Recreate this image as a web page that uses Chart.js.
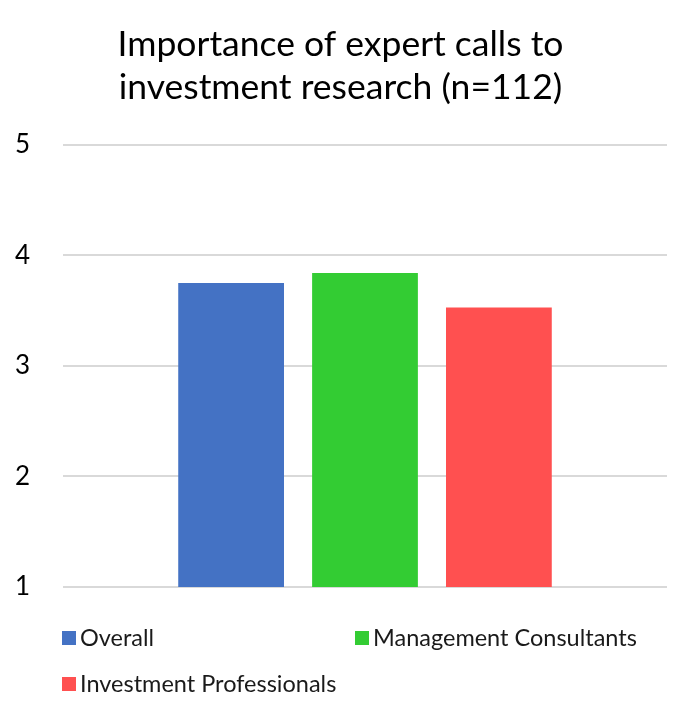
<!DOCTYPE html>
<html>
<head>
<meta charset="utf-8">
<script src="https://cdn.jsdelivr.net/npm/chart.js@4"></script>
<style>
  html, body { margin: 0; padding: 0; background: #fff; }
  #wrap { width: 689px; height: 714px; }
</style>
</head>
<body>
<div id="wrap"><canvas id="chart"></canvas></div>
<script>
// Chart data
const seriesNames = ['Overall', 'Management Consultants', 'Investment Professionals'];
const seriesValues = [3.75, 3.84, 3.53];
const seriesColors = ['#4472C4', '#33CC33', '#FF5050'];
const titleLines = ['Importance of expert calls to', 'investment research (n=112)'];
const yTicks = [1, 2, 3, 4, 5];

const FONT = "Lato, 'Noto Sans', sans-serif";

// Legend laid out in two columns, like the original
const gridLegend = {
    id: 'gridLegend',
    afterDraw(chart) {
        const ctx = chart.ctx;
        const cols = [62, 355];
        const rows = [638, 684];
        ctx.save();
        ctx.font = '23.5px ' + FONT;
        ctx.textBaseline = 'middle';
        ctx.textAlign = 'left';
        chart.data.datasets.forEach((ds, i) => {
            const x = cols[i % 2];
            const y = rows[Math.floor(i / 2)];
            ctx.fillStyle = ds.backgroundColor;
            ctx.fillRect(x, y - 7, 14, 14);
            ctx.fillStyle = '#1a1a1a';
            ctx.fillText(ds.label, x + 18, y);
        });
        ctx.restore();
    }
};

const datasets = seriesNames.map((name, i) => ({
    label: name,
    data: [seriesValues[i]],
    backgroundColor: seriesColors[i],
    categoryPercentage: 0.665,
    barPercentage: 0.79
}));

new Chart(document.getElementById('chart'), {
    type: 'bar',
    data: { labels: [''], datasets: datasets },
    plugins: [gridLegend],
    options: {
        responsive: true,
        maintainAspectRatio: false,
        animation: false,
        layout: { padding: { left: 14, right: 22, top: 0, bottom: 127 } },
        plugins: {
            legend: { display: false },
            tooltip: { enabled: false },
            title: {
                display: true,
                text: titleLines,
                color: '#000',
                font: { family: FONT, size: 35.5, weight: 'normal', lineHeight: 1.21 },
                padding: { top: 23, bottom: 36 }
            }
        },
        scales: {
            x: { display: false },
            y: {
                min: yTicks[0],
                max: yTicks[yTicks.length - 1],
                afterBuildTicks: (axis) => { axis.ticks = yTicks.map(v => ({ value: v })); },
                afterFit: (axis) => { axis.width = 49; },
                border: { display: false },
                grid: { color: '#d9d9d9', lineWidth: 2, drawTicks: false },
                ticks: {
                    color: '#000',
                    padding: 33,
                    font: { family: FONT, size: 26 }
                }
            }
        }
    }
});
</script>
</body>
</html>
